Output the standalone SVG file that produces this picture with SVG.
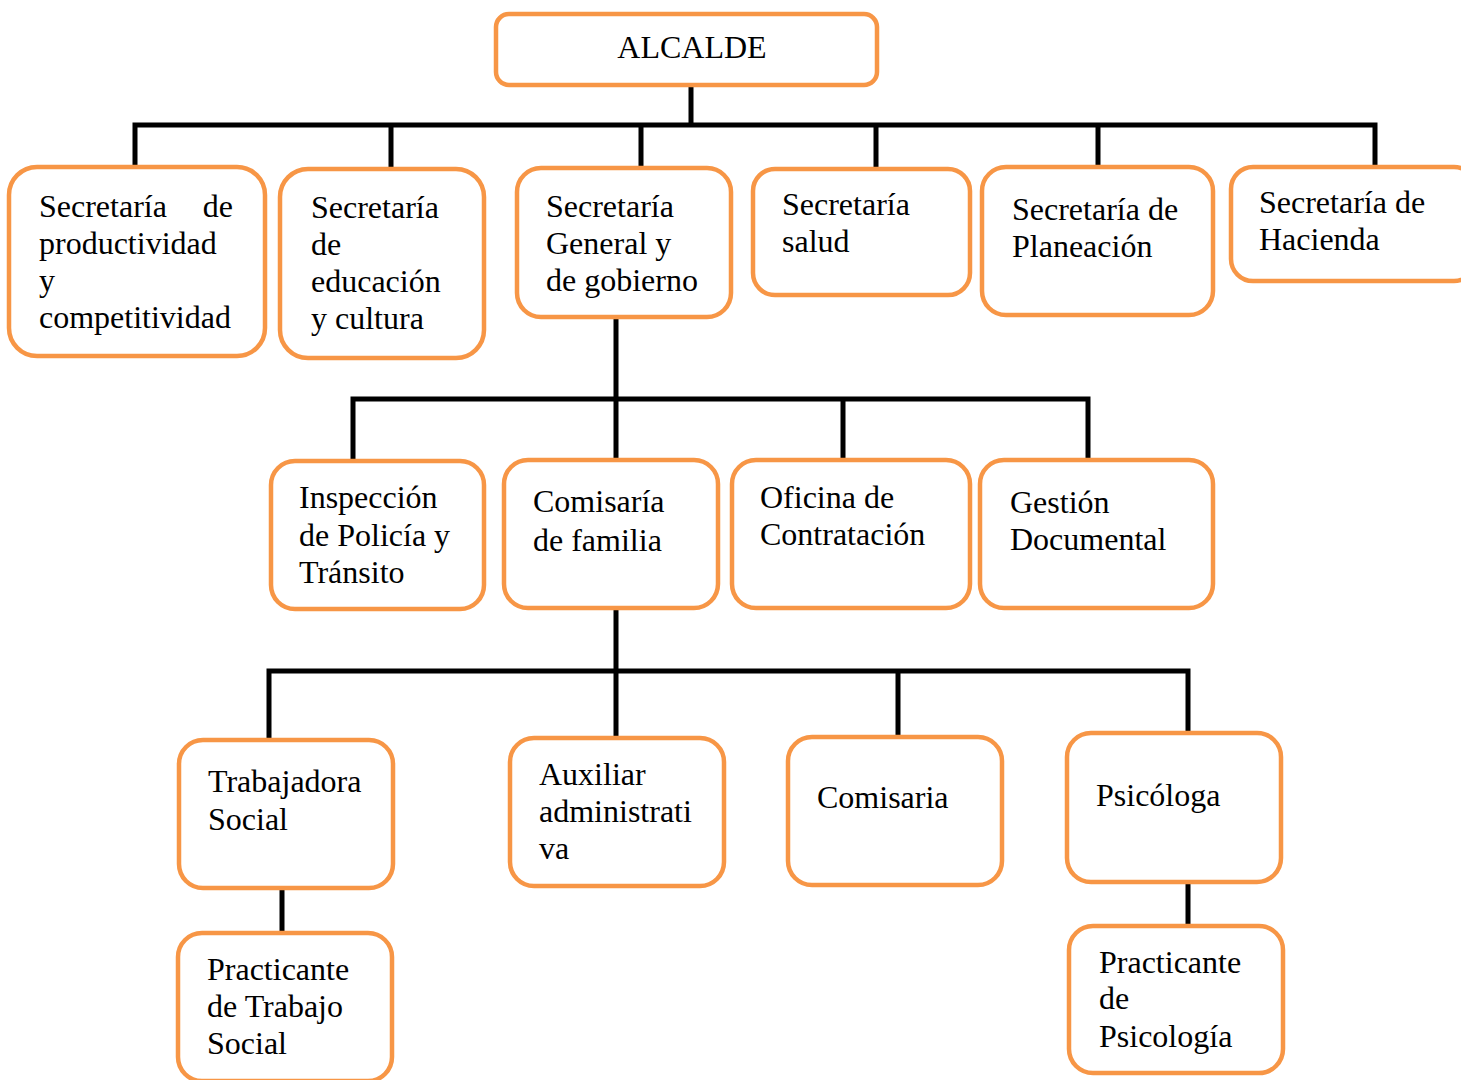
<svg xmlns="http://www.w3.org/2000/svg" width="1461" height="1080" viewBox="0 0 1461 1080">
<style>
.box{fill:#fff;stroke:#F79646;stroke-width:4.5}
.t{font-family:"Liberation Serif","Times New Roman",serif;font-size:32px;fill:#000}
.c{stroke:#000;stroke-width:5;fill:none;stroke-linecap:square}
</style>
<rect width="1461" height="1080" fill="#fff"/>
<g id="connectors">
<path class="c" d="M691 85V125M135 125H1375M135 125V166M391 125V168M641 125V167M876 125V168M1098 125V166M1375 125V166"/>
<path class="c" d="M616 317V459M353 399H1088M353 399V460M843 399V459M1088 399V459"/>
<path class="c" d="M616 608V737M269 671H1188M269 671V739M898 671V736M1188 671V732"/>
<path class="c" d="M282 888V932M1188 882V925"/>
</g>
<g id="alcalde"><rect class="box" x="496" y="14" width="381" height="71" rx="13"/><text class="t" x="692" y="58" text-anchor="middle">ALCALDE</text></g>
<g id="sec-productividad"><rect class="box" x="9" y="167" width="256" height="189" rx="28"/><text class="t"><tspan x="39" y="217">Secretaría</tspan><tspan x="233" y="217" text-anchor="end">de</tspan><tspan x="39" y="254">productividad</tspan><tspan x="39" y="291">y</tspan><tspan x="39" y="328">competitividad</tspan></text></g>
<g id="sec-educacion"><rect class="box" x="280" y="169" width="204" height="189" rx="28"/><text class="t"><tspan x="311" y="218">Secretaría</tspan><tspan x="311" y="255">de</tspan><tspan x="311" y="292">educación</tspan><tspan x="311" y="329">y cultura</tspan></text></g>
<g id="sec-general"><rect class="box" x="517" y="168" width="214" height="149" rx="24"/><text class="t"><tspan x="546" y="217">Secretaría</tspan><tspan x="546" y="254">General y</tspan><tspan x="546" y="291">de gobierno</tspan></text></g>
<g id="sec-salud"><rect class="box" x="753" y="169" width="217" height="126" rx="22"/><text class="t"><tspan x="782" y="215">Secretaría</tspan><tspan x="782" y="252">salud</tspan></text></g>
<g id="sec-planeacion"><rect class="box" x="982" y="167" width="231" height="148" rx="24"/><text class="t"><tspan x="1012" y="220">Secretaría de</tspan><tspan x="1012" y="257">Planeación</tspan></text></g>
<g id="sec-hacienda"><rect class="box" x="1231" y="167" width="245" height="114" rx="22"/><text class="t"><tspan x="1259" y="213">Secretaría de</tspan><tspan x="1259" y="250">Hacienda</tspan></text></g>
<g id="inspeccion"><rect class="box" x="271" y="461" width="213" height="148" rx="24"/><text class="t"><tspan x="299" y="508">Inspección</tspan><tspan x="299" y="546">de Policía y</tspan><tspan x="299" y="583">Tránsito</tspan></text></g>
<g id="comisaria-familia"><rect class="box" x="504" y="460" width="214" height="148" rx="24"/><text class="t"><tspan x="533" y="512">Comisaría</tspan><tspan x="533" y="551">de familia</tspan></text></g>
<g id="contratacion"><rect class="box" x="732" y="460" width="238" height="148" rx="24"/><text class="t"><tspan x="760" y="508">Oficina de</tspan><tspan x="760" y="545">Contratación</tspan></text></g>
<g id="gestion"><rect class="box" x="980" y="460" width="233" height="148" rx="24"/><text class="t"><tspan x="1010" y="513">Gestión</tspan><tspan x="1010" y="550">Documental</tspan></text></g>
<g id="trabajadora"><rect class="box" x="179" y="740" width="214" height="148" rx="24"/><text class="t"><tspan x="208" y="792">Trabajadora</tspan><tspan x="208" y="830">Social</tspan></text></g>
<g id="auxiliar"><rect class="box" x="510" y="738" width="214" height="148" rx="24"/><text class="t"><tspan x="539" y="785">Auxiliar</tspan><tspan x="539" y="822">administrati</tspan><tspan x="539" y="859">va</tspan></text></g>
<g id="comisaria"><rect class="box" x="788" y="737" width="214" height="148" rx="24"/><text class="t" x="817" y="808">Comisaria</text></g>
<g id="psicologa"><rect class="box" x="1067" y="733" width="214" height="149" rx="24"/><text class="t" x="1096" y="806">Psicóloga</text></g>
<g id="practicante-ts"><rect class="box" x="178" y="933" width="214" height="148" rx="24"/><text class="t"><tspan x="207" y="980">Practicante</tspan><tspan x="207" y="1017">de Trabajo</tspan><tspan x="207" y="1054">Social</tspan></text></g>
<g id="practicante-psi"><rect class="box" x="1069" y="926" width="214" height="147" rx="24"/><text class="t"><tspan x="1099" y="973">Practicante</tspan><tspan x="1099" y="1009">de</tspan><tspan x="1099" y="1047">Psicología</tspan></text></g>
</svg>
